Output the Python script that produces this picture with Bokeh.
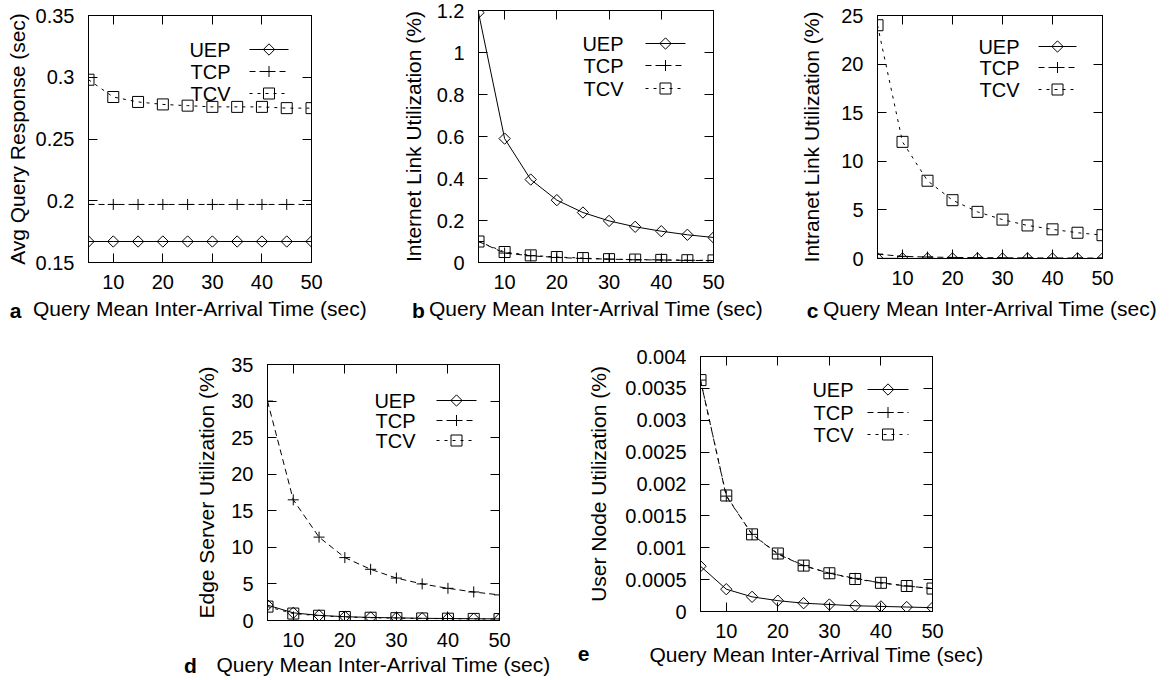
import numpy as np
from bokeh.plotting import figure
from bokeh.models import Range1d, FixedTicker, LinearAxis, Label, Spacer
from bokeh.layouts import row, column
from bokeh.embed import file_html
from bokeh.resources import INLINE

# ---------------- data ----------------
x_vals = [5, 10, 15, 20, 25, 30, 35, 40, 45, 50]
x_ticks = [10, 20, 30, 40, 50]
series_names = ["UEP", "TCP", "TCV"]

# (a) Avg Query Response (sec)
a_uep = [0.167, 0.167, 0.167, 0.167, 0.167, 0.167, 0.167, 0.167, 0.167, 0.167]
a_tcp = [0.197, 0.197, 0.197, 0.197, 0.197, 0.197, 0.197, 0.197, 0.197, 0.197]
a_tcv = [0.298, 0.284, 0.280, 0.278, 0.277, 0.276, 0.276, 0.276, 0.275, 0.275]
a_yticks = [0.15, 0.2, 0.25, 0.3, 0.35]
a_ylabels = ["0.15", "0.2", "0.25", "0.3", "0.35"]

# (b) Internet Link Utilization (%)
b_uep = [1.19, 0.59, 0.395, 0.297, 0.238, 0.198, 0.17, 0.149, 0.132, 0.119]
b_tcp = [0.10, 0.045, 0.032, 0.024, 0.019, 0.016, 0.013, 0.012, 0.010, 0.009]
b_tcv = [0.10, 0.05, 0.034, 0.026, 0.021, 0.016, 0.014, 0.0125, 0.011, 0.01]
b_yticks = [0, 0.2, 0.4, 0.6, 0.8, 1.0, 1.2]
b_ylabels = ["0", "0.2", "0.4", "0.6", "0.8", "1", "1.2"]

# (c) Intranet Link Utilization (%)
c_uep = [0.02, 0.01, 0.007, 0.005, 0.004, 0.003, 0.003, 0.002, 0.002, 0.002]
c_tcp = [0.45, 0.22, 0.15, 0.11, 0.09, 0.075, 0.065, 0.055, 0.05, 0.045]
c_tcv = [24.0, 12.0, 8.0, 6.0, 4.8, 4.0, 3.4, 3.0, 2.65, 2.4]
c_yticks = [0, 5, 10, 15, 20, 25]
c_ylabels = ["0", "5", "10", "15", "20", "25"]

# (d) Edge Server Utilization (%)
d_uep = [2.1, 1.05, 0.7, 0.52, 0.42, 0.36, 0.3, 0.27, 0.24, 0.22]
d_tcp = [30.0, 16.5, 11.4, 8.6, 7.0, 5.8, 5.0, 4.4, 3.9, 3.5]
d_tcv = [1.9, 0.95, 0.65, 0.48, 0.38, 0.32, 0.28, 0.25, 0.22, 0.2]
d_yticks = [0, 5, 10, 15, 20, 25, 30, 35]
d_ylabels = ["0", "5", "10", "15", "20", "25", "30", "35"]

# (e) User Node Utilization (%)
e_uep = [0.00071, 0.00035, 0.00023, 0.00017, 0.00013, 0.00011, 0.00009, 0.00008, 0.00007, 0.00006]
e_tcp = [0.00363, 0.00181, 0.00121, 0.0009, 0.00072, 0.0006, 0.00052, 0.00045, 0.0004, 0.00036]
e_tcv = [0.00363, 0.00182, 0.00121, 0.00091, 0.00072, 0.0006, 0.00051, 0.00045, 0.0004, 0.00036]
e_yticks = [0, 0.0005, 0.001, 0.0015, 0.002, 0.0025, 0.003, 0.0035, 0.004]
e_ylabels = ["0", "0.0005", "0.001", "0.0015", "0.002", "0.0025", "0.003", "0.0035", "0.004"]

x_title = "Query Mean Inter-Arrival Time (sec)"

# ---------------- styling / layout ----------------
FONT = "Liberation Sans"
TICK_PX = "20px"
LABEL_PX = "21px"
LEG_PX = "20px"

STYLES = {
    "UEP": dict(dash="solid", marker="square", size=8, angle=np.pi / 4),
    "TCP": dict(dash="6 4", marker="cross", size=11, angle=0.0),
    "TCV": dict(dash="3 5", marker="square", size=11, angle=0.0),
}


def style_axis(ax, ticks, labels=None, show_labels=True, standoff=12):
    ax.ticker = FixedTicker(ticks=ticks)
    ax.major_tick_in = 9
    ax.major_tick_out = 0
    ax.minor_tick_in = 0
    ax.minor_tick_out = 0
    ax.axis_line_color = "black"
    ax.axis_line_width = 1
    ax.major_tick_line_color = "black"
    ax.major_tick_line_width = 1
    ax.major_label_text_font = FONT
    if show_labels:
        ax.major_label_text_color = "black"
        ax.major_label_text_font_size = TICK_PX
        ax.major_label_standoff = standoff
        if labels is not None:
            ax.major_label_overrides = {t: l for t, l in zip(ticks, labels)}
    else:
        ax.major_label_text_color = None
        ax.major_label_text_font_size = "1px"
        ax.major_label_standoff = 0


def style_title(ax, text, standoff):
    ax.axis_label = text
    ax.axis_label_text_font = FONT
    ax.axis_label_text_font_size = LABEL_PX
    ax.axis_label_text_font_style = "normal"
    ax.axis_label_text_color = "black"
    ax.axis_label_standoff = standoff


def make_panel(cfg):
    y0, y1 = cfg["yrange"]
    fw, fh = cfg["fw"], cfg["fh"]
    p = figure(
        frame_width=fw, frame_height=fh,
        min_border_left=cfg["bl"], min_border_right=cfg["br"],
        min_border_top=cfg["bt"], min_border_bottom=cfg["bb"],
        x_range=Range1d(5, 50), y_range=Range1d(y0, y1),
        output_backend="svg", toolbar_location=None,
        background_fill_color="white", border_fill_color="white",
        outline_line_color="black", outline_line_width=1,
    )
    p.xgrid.visible = False
    p.ygrid.visible = False
    style_axis(p.xaxis[0], x_ticks, standoff=12)
    style_axis(p.yaxis[0], cfg["yticks"], cfg["ylabels"], standoff=14)
    style_title(p.xaxis[0], x_title, cfg["xs"])
    style_title(p.yaxis[0], cfg["ytitle"], cfg["ys"])
    top = LinearAxis()
    style_axis(top, x_ticks, show_labels=False)
    p.add_layout(top, "above")
    right = LinearAxis()
    style_axis(right, cfg["yticks"], show_labels=False)
    p.add_layout(right, "right")

    def dx(px):  # pixel offset from frame left -> data x
        return 5 + px / fw * 45.0

    def dy(px):  # pixel offset from frame bottom -> data y
        return y0 + px / fh * (y1 - y0)

    # series
    for name, ys in zip(series_names, cfg["series"]):
        st = STYLES[name]
        p.line(x_vals, ys, line_color="black", line_width=1, line_dash=st["dash"])
        p.scatter(x_vals, ys, marker=st["marker"], size=st["size"], angle=st["angle"],
                  line_color="black", line_width=1, fill_color=None)

    # legend (gnuplot style: label left, sample right)
    lg = cfg["legend"]
    x_end = dx(fw - lg["r"])
    x_start = dx(fw - lg["r"] - lg["len"])
    x_mid = (x_start + x_end) / 2
    x_txt = dx(fw - lg["r"] - lg["len"] - lg["gap"])
    for name, rpx in zip(series_names, lg["rows"]):
        st = STYLES[name]
        yy = dy(fh - rpx)
        p.line([x_start, x_end], [yy, yy], line_color="black", line_width=1, line_dash=st["dash"])
        p.scatter([x_mid], [yy], marker=st["marker"], size=st["size"], angle=st["angle"],
                  line_color="black", line_width=1, fill_color=None)
        p.add_layout(Label(x=x_txt, y=yy, text=name, text_font=FONT, text_font_size=LEG_PX,
                           text_align="right", text_baseline="middle", text_color="black"))

    # panel letter (bold), in a side panel so it is not clipped to the frame
    p.add_layout(Label(x=dx(cfg["letter_dx"]), y=dy(-cfg["letter_dy"]), text=cfg["letter"],
                       text_font=FONT, text_font_size=LABEL_PX, text_font_style="bold",
                       text_align="center", text_baseline="middle", text_color="black"),
                 "right")
    if cfg["pad"] > 0:
        return column(Spacer(width=fw + cfg["bl"] + cfg["br"], height=cfg["pad"]), p)
    return column(p)


pa = make_panel(dict(
    yrange=(0.15, 0.35), yticks=a_yticks, ylabels=a_ylabels, series=[a_uep, a_tcp, a_tcv],
    ytitle="Avg Query Response (sec)", letter="a",
    fw=223, fh=247, bl=88, br=79, pad=5, bt=10, bb=74, xs=5, ys=4,
    legend=dict(rows=[34, 56, 78], r=23, len=39, gap=19),
    letter_dx=-73, letter_dy=48))

pb = make_panel(dict(
    yrange=(0, 1.2), yticks=b_yticks, ylabels=b_ylabels, series=[b_uep, b_tcp, b_tcv],
    ytitle="Internet Link Utilization (%)", letter="b",
    fw=235, fh=252, bl=88, br=67, pad=0, bt=10, bb=74, xs=5, ys=9,
    legend=dict(rows=[33, 55, 78], r=28, len=40, gap=22),
    letter_dx=-60, letter_dy=48))

pc = make_panel(dict(
    yrange=(0, 25), yticks=c_yticks, ylabels=c_ylabels, series=[c_uep, c_tcp, c_tcv],
    ytitle="Intranet Link Utilization (%)", letter="c",
    fw=225, fh=243, bl=97, br=71, pad=5, bt=10, bb=78, xs=9, ys=15,
    legend=dict(rows=[31, 52, 74], r=26, len=38, gap=19),
    letter_dx=-65, letter_dy=52))

pd_ = make_panel(dict(
    yrange=(0, 35), yticks=d_yticks, ylabels=d_ylabels, series=[d_uep, d_tcp, d_tcv],
    ytitle="Edge Server Utilization (%)", letter="d",
    fw=232, fh=256, bl=87, br=61, pad=8, bt=20, bb=60, xs=3, ys=10,
    legend=dict(rows=[36, 56, 76], r=23, len=40, gap=21),
    letter_dx=-77, letter_dy=45))

pe = make_panel(dict(
    yrange=(0, 0.004), yticks=e_yticks, ylabels=e_ylabels, series=[e_uep, e_tcp, e_tcv],
    ytitle="User Node Utilization (%)", letter="e",
    fw=232, fh=255, bl=140, br=108, pad=0, bt=20, bb=69, xs=2, ys=12,
    legend=dict(rows=[33, 56, 78], r=24, len=41, gap=14),
    letter_dx=-117, letter_dy=42))

layout = column(
    row(pa, pb, pc),
    row(Spacer(width=180, height=344), pd_, pe),
)

open("out.html", "w").write(file_html(layout, INLINE))
